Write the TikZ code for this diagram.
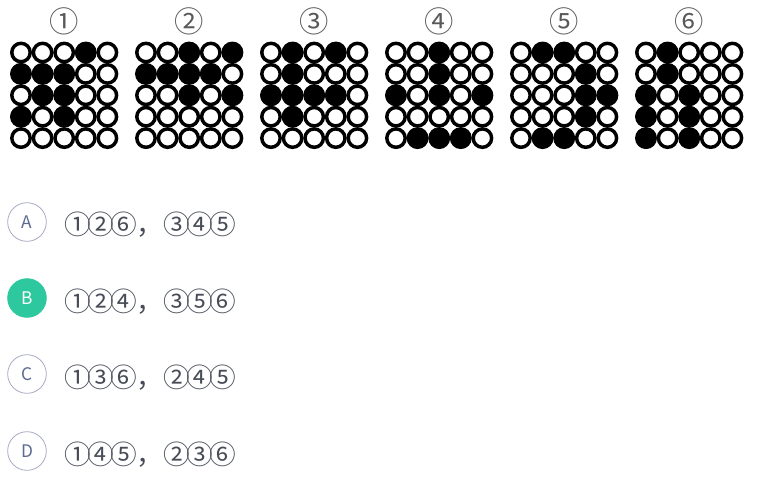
\documentclass[tikz,border=0pt]{standalone}
\usepackage{fontspec}
\setmainfont{Noto Sans CJK SC}
\usetikzlibrary{positioning}
\definecolor{optline}{HTML}{A7ABC3}
\definecolor{optltr}{HTML}{5D6A92}
\definecolor{opttxt}{HTML}{474C57}
\definecolor{optok}{HTML}{2EC89F}
\providecommand{\tk}{\kern-2.8pt}
\tikzset{
  cell/.style ={draw=black,line width=2.6pt,fill=white},
  dot/.style  ={fill=black},
  numlab/.style ={font=\fontsize{22}{24}\selectfont\addfontfeature{FakeBold=0},text=black!65,inner sep=0pt},
  optc/.style ={circle,draw=optline,line width=.6pt,minimum size=29pt,inner sep=0pt,
                font=\fontsize{13}{14}\selectfont,text=optltr},
  optok/.style={optc,fill=optok,draw=optok,text=white},
  opttext/.style={anchor=west,inner sep=0pt,font=\fontsize{20}{22}\selectfont,text=opttxt},
}

\begin{document}
\begin{tikzpicture}[x=0.75pt,y=-0.75pt]
  \useasboundingbox (0,0) rectangle (760,487);

  % ---------- six 5x5 grids ----------
  \foreach \g/\cells in {0/{4/1,1/2,2/2,3/2,2/3,3/3,1/4,3/4},
                         1/{3/1,5/1,1/2,2/2,3/2,4/2,3/3,5/3},
                         2/{2/1,4/1,2/2,1/3,2/3,3/3,4/3,2/4},
                         3/{3/1,3/2,1/3,3/3,5/3,2/5,3/5,4/5},
                         4/{2/1,3/1,4/2,4/3,5/3,4/4,2/5,3/5},
                         5/{2/1,2/2,1/3,3/3,1/4,3/4,1/5,3/5}}{
    \foreach \c in {1,...,5}
      \foreach \r in {1,...,5}
        \draw[cell] ({21+125*\g+21.6*(\c-1)},{52.5+21.4*(\r-1)}) circle (9.2);
    \foreach \c/\r in \cells
      \fill[dot] ({21+125*\g+21.6*(\c-1)},{52.5+21.4*(\r-1)}) circle (10.5);
  }

  % ---------- grid labels ----------
  \foreach \g/\lab in {0/①,1/②,2/③,3/④,4/⑤,5/⑥}
    \node[numlab] (lab\g) at ({64+125*\g},21.5) {\lab};

  % ---------- answer options ----------
  \node[optc]  (optA) at (27,222) {A};
  \node[optok] (optB) at (27,298) {B};
  \node[optc]  (optC) at (27,374) {C};
  \node[optc]  (optD) at (27,451) {D};

  \node[opttext] (txtA) at (64,225) {①\tk②\tk⑥，③\tk④\tk⑤};
  \node[opttext] (txtB) at (64,302) {①\tk②\tk④，③\tk⑤\tk⑥};
  \node[opttext] (txtC) at (64,378) {①\tk③\tk⑥，②\tk④\tk⑤};
  \node[opttext] (txtD) at (64,455) {①\tk④\tk⑤，②\tk③\tk⑥};

\end{tikzpicture}
\end{document}
